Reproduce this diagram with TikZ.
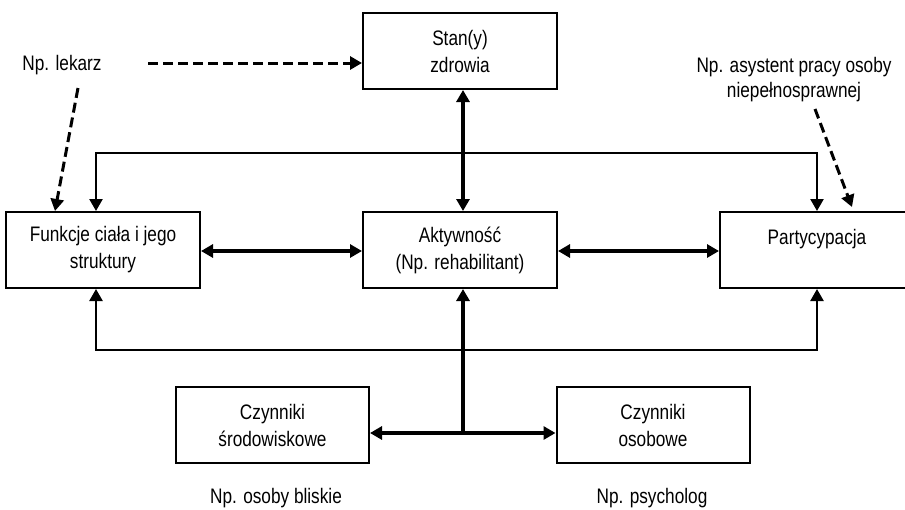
\documentclass[tikz,border=0pt]{standalone}
\usepackage{fontspec}
\setmainfont{Liberation Sans}[FakeStretch=0.82]
\usetikzlibrary{arrows.meta}
\begin{document}
\begin{tikzpicture}[x=1pt,y=-1pt,
  every node/.style={font=\fontsize{21}{27}\selectfont, inner sep=0pt},
  box/.style={draw, line width=2pt, minimum width=194pt, minimum height=76pt, align=center},
  lbl/.style={align=center},
  conn/.style={line width=3.2pt, -{Triangle[length=12pt,width=13pt]}},
  dconn/.style={line width=3.2pt, {Triangle[length=12pt,width=13pt]}-{Triangle[length=12pt,width=13pt]}},
  loopconn/.style={line width=2.4pt, -{Triangle[length=12pt,width=13pt]}},
  dashconn/.style={line width=3pt, dash pattern=on 10pt off 5pt, -{Triangle[length=12pt,width=13pt]}}]
\useasboundingbox (0,0) rectangle (905,509);
\clip (0,0) rectangle (905,509);
\node[box] (stan) at (460,51) {Stan(y)\\zdrowia};
\node[box] (funk) at (103,250) {Funkcje ciała i jego\\struktury};
\node[box] (akt) at (460,250) {Aktywność\\(Np. rehabilitant)};
\node[box] (part) at (817,250) {Partycypacja\\~};
\node[box, minimum width=193pt] (srod) at (272.5,425) {Czynniki\\środowiskowe};
\node[box, minimum width=193pt] (osob) at (653,425) {Czynniki\\osobowe};
\node[lbl] (lek) at (62,65) {Np. lekarz};
\node[lbl, font=\fontsize{21}{25}\selectfont] (asys) at (794,80) {Np. asystent pracy osoby\\niepełnosprawnej};
\node[lbl] (blis) at (276,498) {Np. osoby bliskie};
\node[lbl] (psy) at (652,498) {Np. psycholog};
% coordinates
\coordinate (tl) at (96,153);
\coordinate (tr) at (817,153);
\coordinate (bl) at (96,350);
\coordinate (br) at (817,350);
\coordinate (j) at (463,433);
\coordinate (l1) at (148,63);
\coordinate (l2) at (78,88);
\coordinate (l2e) at (55,211);
\coordinate (a1) at (815,109);
\coordinate (a1e) at (852,207);
% connectors
\draw[dconn] (stan.south -| j) -- (akt.north -| j);
\draw[dconn] (funk.east |- 0,251) -- (akt.west |- 0,251);
\draw[dconn] (akt.east |- 0,251) -- (part.west |- 0,251);
\draw[loopconn] (tr) -- (tl) -- (funk.north -| tl);
\draw[loopconn] (tl) -- (tr) -- (part.north -| tr);
\draw[loopconn] (br) -- (bl) -- (funk.south -| bl);
\draw[loopconn] (bl) -- (br) -- (part.south -| br);
\draw[conn] (j) -- (akt.south -| j);
\draw[dconn] (srod.east |- j) -- (osob.west |- j);
\draw[dashconn] (l1) -- (stan.west |- l1);
\draw[dashconn] (l2) -- (l2e);
\draw[dashconn] (a1) -- (a1e);
\end{tikzpicture}
\end{document}
